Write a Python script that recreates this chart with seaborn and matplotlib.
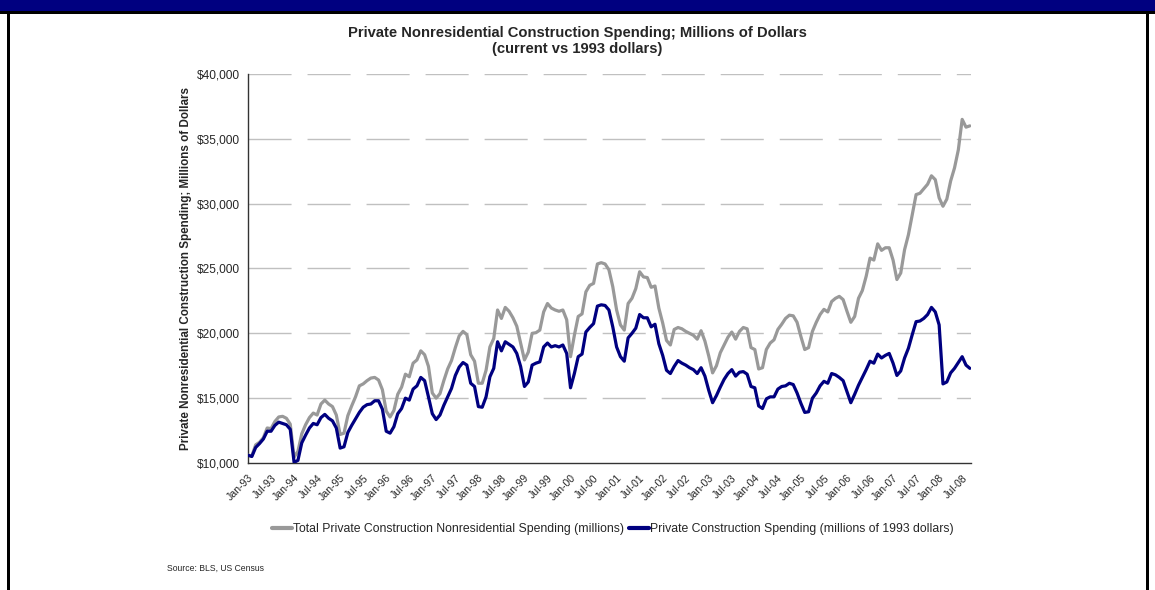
import matplotlib
matplotlib.use("Agg")
import matplotlib.pyplot as plt
import seaborn as sns
import pandas as pd
import numpy as np
from matplotlib.patches import Rectangle
from matplotlib.lines import Line2D

# Monthly data, Jan-1993 .. Sep-2008 (189 months)
nominal = [
    10600, 10550, 11400, 11600, 11950, 12700, 12650, 13200, 13550, 13600, 13450, 13000,   # 1993
    10450, 10900, 12250, 12950, 13500, 13850, 13700, 14550, 14850, 14550, 14350, 13700,   # 1994
    12200, 12300, 13650, 14400, 15100, 15950, 16100, 16350, 16550, 16600, 16400, 15650,   # 1995
    14000, 13550, 14050, 15300, 15850, 16850, 16650, 17700, 17950, 18650, 18350, 17450,   # 1996
    15400, 15000, 15350, 16350, 17250, 17900, 18900, 19800, 20150, 19900, 18350, 17850,   # 1997
    16150, 16150, 17150, 18950, 19600, 21800, 21150, 22000, 21700, 21200, 20550, 19250,   # 1998
    17950, 18550, 20000, 20050, 20250, 21650, 22300, 21950, 21800, 21700, 21800, 21050,   # 1999
    18200, 19850, 21300, 21500, 23200, 23700, 23850, 25350, 25450, 25350, 24900, 23600,   # 2000
    21800, 20650, 20250, 22300, 22700, 23450, 24750, 24350, 24300, 23550, 23650, 21950,   # 2001
    20800, 19450, 19100, 20300, 20450, 20350, 20150, 20000, 19850, 19550, 20200, 19400,   # 2002
    18250, 16950, 17500, 18500, 19100, 19700, 20100, 19550, 20150, 20450, 20350, 18900,   # 2003
    18750, 17250, 17350, 18750, 19250, 19500, 20300, 20700, 21150, 21400, 21350, 20850,   # 2004
    19750, 18750, 18900, 20150, 20850, 21450, 21850, 21650, 22450, 22700, 22850, 22600,   # 2005
    21700, 20850, 21300, 22700, 23300, 24400, 25800, 25650, 26900, 26400, 26600, 26600,   # 2006
    25650, 24150, 24650, 26450, 27600, 29150, 30700, 30800, 31150, 31500, 32150, 31850,   # 2007
    30450, 29800, 30350, 31750, 32750, 34150, 36500, 35900, 36000,                        # 2008
]
real_1993 = [
    10600, 10500, 11200, 11500, 11850, 12450, 12450, 12900, 13150, 13050, 12950, 12600,   # 1993
    10050, 10200, 11550, 12150, 12700, 13050, 12950, 13500, 13750, 13450, 13250, 12700,   # 1994
    11150, 11250, 12350, 12900, 13400, 13900, 14300, 14500, 14550, 14800, 14800, 14150,   # 1995
    12450, 12300, 12800, 13800, 14200, 15000, 14850, 15700, 15950, 16600, 16350, 15100,   # 1996
    13800, 13350, 13700, 14450, 15100, 15750, 16750, 17400, 17750, 17550, 16150, 15900,   # 1997
    14350, 14300, 15100, 16650, 17300, 19350, 18650, 19350, 19150, 18950, 18450, 17450,   # 1998
    15900, 16250, 17550, 17700, 17800, 18950, 19250, 18950, 19050, 18950, 19100, 18450,   # 1999
    15800, 16900, 18200, 18400, 20100, 20450, 20750, 22100, 22200, 22150, 21800, 20500,   # 2000
    18950, 18200, 17850, 19650, 20000, 20400, 21450, 21200, 21200, 20500, 20700, 19200,   # 2001
    18300, 17150, 16900, 17450, 17900, 17700, 17550, 17350, 17200, 16900, 17350, 16700,   # 2002
    15600, 14650, 15200, 15850, 16450, 16900, 17200, 16700, 17000, 17050, 16850, 15900,   # 2003
    15800, 14400, 14200, 14950, 15100, 15100, 15700, 15900, 15950, 16150, 16050, 15400,   # 2004
    14600, 13900, 13950, 15000, 15400, 15950, 16300, 16150, 16900, 16800, 16600, 16350,   # 2005
    15500, 14650, 15300, 16000, 16600, 17200, 17850, 17700, 18400, 18100, 18300, 18450,   # 2006
    17700, 16750, 17100, 18100, 18850, 19900, 20900, 20950, 21150, 21450, 22000, 21650,   # 2007
    20650, 16100, 16250, 16950, 17300, 17750, 18200, 17550, 17300,                        # 2008
]
month_idx = list(range(len(nominal)))
tick_labels = [f"{m}-{y:02d}" for y in list(range(93, 100)) + list(range(0, 9))
               for m in ("Jan", "Jul")]
tick_pos = list(range(0, 6 * len(tick_labels), 6))
y_ticks = [10000, 15000, 20000, 25000, 30000, 35000, 40000]

label_nom = "Total Private Construction Nonresidential Spending (millions)"
label_real = "Private Construction Spending (millions of 1993 dollars)"

df = pd.DataFrame({
    "month": month_idx * 2,
    "value": nominal + real_1993,
    "series": [label_nom] * len(nominal) + [label_real] * len(real_1993),
})

sns.set_style("white")
plt.rcParams["font.family"] = ["Liberation Sans", "DejaVu Sans"]

fig = plt.figure(figsize=(11.55, 5.90), dpi=100)
W, H = 1155, 590

# frame decoration
fig.patches.append(Rectangle((0, 1 - 11 / H), 1, 11 / H, transform=fig.transFigure,
                             facecolor="#000080", edgecolor="none", zorder=0))
fig.patches.append(Rectangle((0, 1 - 14 / H), 1, 3 / H, transform=fig.transFigure,
                             facecolor="black", edgecolor="none", zorder=0))
fig.patches.append(Rectangle((7 / W, 0), 3 / W, 1 - 11 / H, transform=fig.transFigure,
                             facecolor="black", edgecolor="none", zorder=0))
fig.patches.append(Rectangle((1146 / W, 0), 3 / W, 1 - 11 / H, transform=fig.transFigure,
                             facecolor="black", edgecolor="none", zorder=0))

ax = fig.add_axes([248 / W, 1 - 463 / H, (971 - 248) / W, (463 - 74) / H])
sns.lineplot(data=df, x="month", y="value", hue="series",
             palette={label_nom: "#999999", label_real: "#000080"},
             linewidth=2.3, ax=ax, legend=False, zorder=3)

ax.set_xlim(0, 188.3)
ax.set_ylim(10000, 40000)
ax.set_yticks(y_ticks)
ax.set_yticklabels([f"${v:,.0f}" for v in y_ticks], fontsize=8.6)
ax.set_xticks(tick_pos)
ax.set_xticklabels(tick_labels, rotation=45, ha="right", rotation_mode="anchor", fontsize=7.6)
ax.set_xlabel("")
ax.set_ylabel("Private Nonresidential Construction Spending; Millions of Dollars",
              fontsize=8.4, fontweight="bold", labelpad=3)
ax.tick_params(axis="both", direction="out", length=4, width=1, color="#333333", pad=2)
ax.tick_params(axis="x", pad=3)
for s in ("top", "right"):
    ax.spines[s].set_visible(False)
for s in ("left", "bottom"):
    ax.spines[s].set_color("#333333")
    ax.spines[s].set_linewidth(1)

for v in y_ticks[1:]:
    ax.axhline(v, color="#c0c0c0", linewidth=1, dashes=(31, 11.5), zorder=1)

fig.text(0.5, 1 - 33 / H, "Private Nonresidential Construction Spending; Millions of Dollars",
         ha="center", va="center", fontsize=10.6, fontweight="bold")
fig.text(0.5, 1 - 49 / H, "(current vs 1993 dollars)",
         ha="center", va="center", fontsize=10.6, fontweight="bold")

handles = [Line2D([], [], color="#999999", linewidth=3),
           Line2D([], [], color="#000080", linewidth=3)]
fig.legend(handles, [label_nom, label_real], loc="center", bbox_to_anchor=(0.5306, 1 - 529 / H),
           ncol=2, frameon=False, fontsize=8.8, handlelength=1.6, handletextpad=0.1,
           columnspacing=0.4)

fig.text(167 / W, 1 - 568 / H, "Source: BLS, US Census", ha="left", va="center", fontsize=6.2)

fig.savefig("out.png", dpi=100)
